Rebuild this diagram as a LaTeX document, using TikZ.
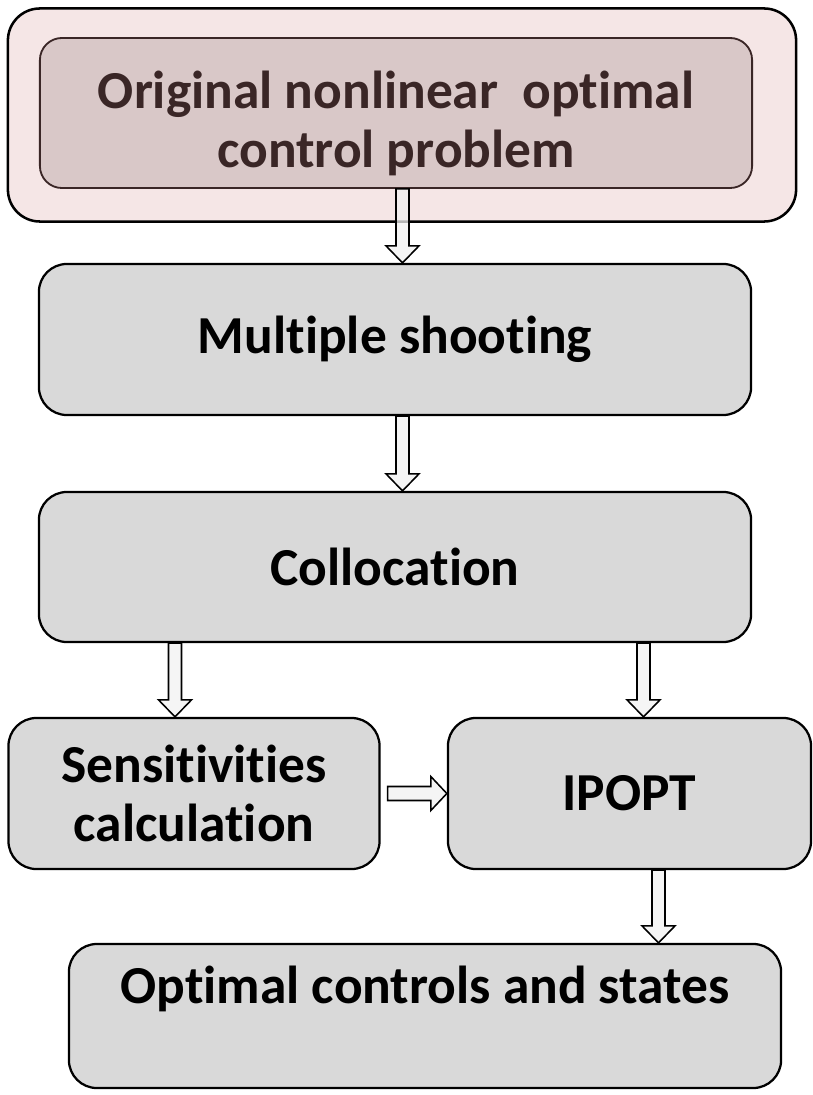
\documentclass[tikz,border=0pt]{standalone}
\usepackage{fontspec}
\setmainfont{Carlito}[RawFeature=-liga]
\usetikzlibrary{calc}

\definecolor{outerpink}{RGB}{245,230,230}
\definecolor{innerpink}{RGB}{217,200,200}
\definecolor{darkbrown}{RGB}{58,38,38}
\definecolor{boxgray}{RGB}{217,217,217}
\definecolor{arrowgray}{RGB}{242,242,242}

\tikzset{
  stage/.style={draw=black, line width=1.6pt, fill=boxgray, rounded corners=0.7cm,
    align=center, inner sep=0pt, font=\fontsize{38}{42}\selectfont\bfseries},
  blockarrow/.style={draw=black, line width=1.1pt, fill=arrowgray, fill opacity=0.75,
    line join=miter},
}

% block arrow pointing down / right, from #1 to #2
\newcommand{\blockdown}[2]{%
  \draw[blockarrow] ($(#1)+(-6.5,0)$) -- ($(#2)+(-6.5,-17)$) -- ($(#2)+(-16.5,-17)$)
    -- (#2) -- ($(#2)+(16.5,-17)$) -- ($(#2)+(6.5,-17)$) -- ($(#1)+(6.5,0)$) -- cycle;}
\newcommand{\blockright}[2]{%
  \draw[blockarrow] ($(#1)+(0,-7)$) -- ($(#2)+(-16,-7)$) -- ($(#2)+(-16,-17)$)
    -- (#2) -- ($(#2)+(-16,17)$) -- ($(#2)+(-16,7)$) -- ($(#1)+(0,7)$) -- cycle;}

\begin{document}
\begin{tikzpicture}[x=0.025cm, y=-0.025cm]
	\useasboundingbox (0,0) rectangle (813,1095);

	% top problem block
	\node[stage, fill=outerpink, line width=1.8pt, rounded corners=0.8cm,
	      minimum width=19.7cm, minimum height=5.325cm] (outer) at (402,115) {};
	\node[stage, fill=innerpink, draw=darkbrown, line width=1.3pt, rounded corners=0.55cm,
	      text=darkbrown, minimum width=17.8cm, minimum height=3.75cm] (inner) at (396,113)
	      {\parbox{17cm}{\centering\vspace*{0.5cm}Original nonlinear\ \ optimal\\control problem}};

	% transcription steps
	\node[stage, minimum width=17.8cm, minimum height=3.775cm] (ms) at (395,339.5) {Multiple shooting};
	\node[stage, minimum width=17.8cm, minimum height=3.75cm] (coll) at (395,567) {Collocation};

	% solver stage
	\node[stage, minimum width=9.275cm, minimum height=3.775cm] (sens) at (194,793.5) {Sensitivities\\calculation};
	\node[stage, minimum width=9.075cm, minimum height=3.775cm] (ipopt) at (629.5,793.5) {IPOPT};

	% result
	\node[stage, minimum width=17.8cm, minimum height=3.6cm, text depth=44pt] (opt) at (425,1016)
	      {Optimal controls and states};

	% arrows
	\coordinate (a1s) at ($(inner.south)+(6.5,0)$);
	\coordinate (a1e) at ($(inner.south |- ms.north)+(6.5,0)$);
	\coordinate (a2s) at ($(ms.south)+(7.5,0)$);
	\coordinate (a2e) at ($(ms.south |- coll.north)+(7.5,0)$);
	\coordinate (a3s) at ($(coll.south -| sens.north)+(-19,0)$);
	\coordinate (a3e) at ($(sens.north)+(-19,0)$);
	\coordinate (a4s) at ($(coll.south -| ipopt.north)+(14,0)$);
	\coordinate (a4e) at ($(ipopt.north)+(14,0)$);
	\coordinate (a5s) at ($(ipopt.south)+(29,0)$);
	\coordinate (a5e) at ($(ipopt.south |- opt.north)+(29,0)$);
	\coordinate (a6s) at ($(sens.east)+(7,0)$);

	\blockdown{a1s}{a1e}
	\blockdown{a2s}{a2e}
	\blockdown{a3s}{a3e}
	\blockdown{a4s}{a4e}
	\blockdown{a5s}{a5e}
	\blockright{a6s}{ipopt.west}

\end{tikzpicture}
\end{document}
